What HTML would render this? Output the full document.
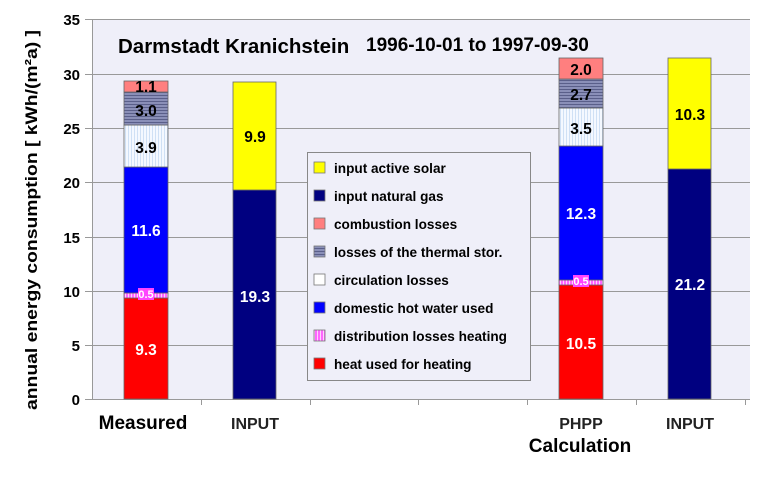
<!DOCTYPE html>
<html><head><style>
body{margin:0;background:#fff;}
svg text{font-family:"Liberation Sans",Arial,sans-serif;font-weight:bold;}
</style></head><body>
<svg width="775" height="478" viewBox="0 0 775 478" xmlns="http://www.w3.org/2000/svg">
<defs>
<pattern id="hz" width="4" height="3" patternUnits="userSpaceOnUse"><rect width="4" height="3" fill="#8a8fb8"/><rect y="2" width="4" height="1" fill="#5a5f8a"/></pattern>
<pattern id="vt" width="3" height="4" patternUnits="userSpaceOnUse"><rect width="3" height="4" fill="#f4f8ff"/><rect x="2" width="1" height="4" fill="#cfe0f5"/></pattern>
<pattern id="pk" width="3" height="3" patternUnits="userSpaceOnUse"><rect width="3" height="3" fill="#ff66ff"/><rect x="2" width="1" height="3" fill="#ffd0ff"/></pattern>
</defs>
<rect x="93" y="19" width="657" height="380" fill="#efeff9"/>
<g stroke="#999" stroke-width="1">
<line x1="93" y1="19.5" x2="750" y2="19.5"/>
<line x1="93" y1="74.5" x2="750" y2="74.5"/>
<line x1="93" y1="128.5" x2="750" y2="128.5"/>
<line x1="93" y1="182.5" x2="750" y2="182.5"/>
<line x1="93" y1="237.5" x2="750" y2="237.5"/>
<line x1="93" y1="291.5" x2="750" y2="291.5"/>
<line x1="93" y1="345.5" x2="750" y2="345.5"/>
<line x1="92.5" y1="19" x2="92.5" y2="399"/>
<line x1="92" y1="399.5" x2="750" y2="399.5"/>
</g>
<g stroke="#999">
<line x1="85" y1="19.5" x2="93" y2="19.5"/><line x1="85" y1="74.5" x2="93" y2="74.5"/><line x1="85" y1="128.5" x2="93" y2="128.5"/><line x1="85" y1="182.5" x2="93" y2="182.5"/><line x1="85" y1="237.5" x2="93" y2="237.5"/><line x1="85" y1="291.5" x2="93" y2="291.5"/><line x1="85" y1="345.5" x2="93" y2="345.5"/><line x1="85" y1="399.5" x2="93" y2="399.5"/>
<line x1="201.5" y1="399" x2="201.5" y2="405"/><line x1="310.5" y1="399" x2="310.5" y2="405"/><line x1="418.5" y1="399" x2="418.5" y2="405"/><line x1="527.5" y1="399" x2="527.5" y2="405"/><line x1="636.5" y1="399" x2="636.5" y2="405"/><line x1="745.5" y1="399" x2="745.5" y2="405"/>
</g>
<g font-size="15" text-anchor="end" fill="#000">
<text x="80" y="25">35</text><text x="80" y="80">30</text><text x="80" y="134">25</text><text x="80" y="188">20</text><text x="80" y="243">15</text><text x="80" y="297">10</text><text x="80" y="351">5</text><text x="80" y="405">0</text>
</g>
<text transform="translate(37,410) rotate(-90)" font-size="17" textLength="380" lengthAdjust="spacingAndGlyphs">annual energy consumption  [ kWh/(m²a) ]</text>
<text x="118" y="53" font-size="20.5">Darmstadt Kranichstein</text>
<text x="366" y="51" font-size="19">1996-10-01  to 1997-09-30</text>
<g stroke="#666" stroke-width="0.8">
<rect x="124" y="298" width="44" height="101" fill="#ff0000"/>
<rect x="124" y="293" width="44" height="5" fill="url(#pk)"/>
<rect x="124" y="167" width="44" height="126" fill="#0000ff"/>
<rect x="124" y="125" width="44" height="42" fill="url(#vt)"/>
<rect x="124" y="92" width="44" height="33" fill="url(#hz)"/>
<rect x="124" y="81" width="44" height="11" fill="#ff7f7f"/>
<rect x="233" y="190" width="43" height="209" fill="#000080"/>
<rect x="233" y="82" width="43" height="108" fill="#ffff00"/>
<rect x="559" y="285" width="44" height="114" fill="#ff0000"/>
<rect x="559" y="280" width="44" height="5" fill="url(#pk)"/>
<rect x="559" y="146" width="44" height="134" fill="#0000ff"/>
<rect x="559" y="108" width="44" height="38" fill="url(#vt)"/>
<rect x="559" y="79" width="44" height="29" fill="url(#hz)"/>
<rect x="559" y="58" width="44" height="21" fill="#ff7f7f"/>
<rect x="668" y="169" width="43" height="230" fill="#000080"/>
<rect x="668" y="58" width="43" height="111" fill="#ffff00"/>
</g>
<rect x="138" y="288" width="16" height="12" fill="#ff44ff"/>
<rect x="573" y="275" width="16" height="12" fill="#ff44ff"/>
<g font-size="15.5" text-anchor="middle">
<text x="146" y="355" fill="#fff">9.3</text>
<text x="146" y="298" fill="#fff" font-size="11">0.5</text>
<text x="146" y="236" fill="#fff">11.6</text>
<text x="146" y="153">3.9</text>
<text x="146" y="116">3.0</text>
<text x="146" y="92">1.1</text>
<text x="255" y="302" fill="#fff">19.3</text>
<text x="255" y="142">9.9</text>
<text x="581" y="349" fill="#fff">10.5</text>
<text x="581" y="285" fill="#fff" font-size="11">0.5</text>
<text x="581" y="219" fill="#fff">12.3</text>
<text x="581" y="134">3.5</text>
<text x="581" y="100">2.7</text>
<text x="581" y="75">2.0</text>
<text x="690" y="290" fill="#fff">21.2</text>
<text x="690" y="120">10.3</text>
</g>
<g text-anchor="middle">
<text x="143" y="429" font-size="19">Measured</text>
<text x="255" y="429" font-size="16" fill="#222">INPUT</text>
<text x="581" y="429" font-size="16" fill="#222">PHPP</text>
<text x="580" y="452" font-size="19">Calculation</text>
<text x="690" y="429" font-size="16" fill="#222">INPUT</text>
</g>
<rect x="307.5" y="152.5" width="223" height="228" fill="#efeff9" stroke="#888"/>
<g stroke="#777" stroke-width="0.8">
<rect x="314" y="162" width="11" height="11" fill="#ffff00"/>
<rect x="314" y="190" width="11" height="11" fill="#000080"/>
<rect x="314" y="218" width="11" height="11" fill="#ff7f7f"/>
<rect x="314" y="246" width="11" height="11" fill="url(#hz)"/>
<rect x="314" y="274" width="11" height="11" fill="#fff"/>
<rect x="314" y="302" width="11" height="11" fill="#0000ff"/>
<rect x="314" y="330" width="11" height="11" fill="url(#pk)"/>
<rect x="314" y="358" width="11" height="11" fill="#ff0000"/>
</g>
<g font-size="13.6">
<text x="334" y="173">input active solar</text>
<text x="334" y="201">input natural gas</text>
<text x="334" y="229">combustion losses</text>
<text x="334" y="257">losses of the thermal stor.</text>
<text x="334" y="285">circulation losses</text>
<text x="334" y="313">domestic hot water used</text>
<text x="334" y="341">distribution losses heating</text>
<text x="334" y="369">heat used for heating</text>
</g>
</svg>
</body></html>
